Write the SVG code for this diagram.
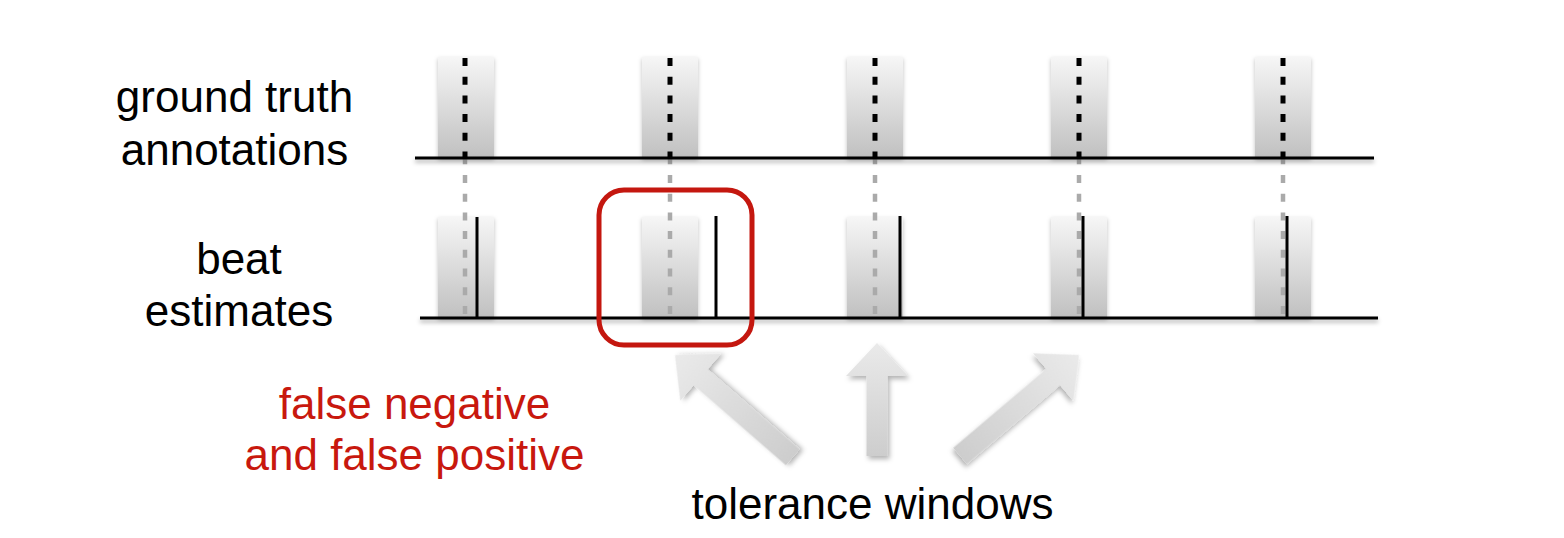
<svg xmlns="http://www.w3.org/2000/svg" width="1564" height="538" viewBox="0 0 1564 538">
<defs>
<linearGradient id="win" x1="0" y1="0" x2="0" y2="1">
<stop offset="0" stop-color="#f6f6f6"/>
<stop offset="1" stop-color="#c0c0c0"/>
</linearGradient>
<linearGradient id="arr" x1="0" y1="0" x2="0" y2="1">
<stop offset="0" stop-color="#eaeaea"/>
<stop offset="1" stop-color="#cdcdcd"/>
</linearGradient>
<filter id="sh" filterUnits="userSpaceOnUse" x="0" y="0" width="1564" height="538">
<feDropShadow dx="0" dy="3" stdDeviation="2" flood-color="#000" flood-opacity="0.3"/>
</filter>
<filter id="wsh" x="-30%" y="-10%" width="160%" height="130%">
<feDropShadow dx="0" dy="2" stdDeviation="2" flood-color="#000" flood-opacity="0.25"/>
</filter>
<filter id="ash" x="-30%" y="-30%" width="160%" height="160%">
<feDropShadow dx="2" dy="3" stdDeviation="2.5" flood-color="#000" flood-opacity="0.3"/>
</filter>
<path id="arrowUp" d="M0,0 L31,33 L10.5,33 L10.5,113 L-10.5,113 L-10.5,33 L-31,33 Z"/>
<path id="arrowLong" d="M0,0 L31,34 L10.5,34 L10.5,156 L-10.5,156 L-10.5,34 L-31,34 Z"/>
</defs>
<style>
.win{fill:url(#win);filter:url(#wsh)}
.base{fill:#000;filter:url(#sh)}
.gt{stroke:#000;stroke-width:5;stroke-dasharray:8 10.7}
.gd{stroke:#aaaaaa;stroke-width:4.5;stroke-dasharray:8 10.7}
.est{stroke:#000;stroke-width:3}
.lbl{font-family:"Liberation Sans",Arial,Helvetica,sans-serif;font-size:44px;text-anchor:middle;fill:#000}
.red{fill:#c8180e}
.arrow{fill:url(#arr);filter:url(#ash)}
</style>
<rect width="1564" height="538" fill="#fff"/>

<g id="labels">
<text class="lbl" x="234.5" y="112">ground truth</text>
<text class="lbl" x="234.5" y="165">annotations</text>
<text class="lbl" x="239" y="274">beat</text>
<text class="lbl" x="239" y="326">estimates</text>
<text class="lbl red" x="414.5" y="419">false negative</text>
<text class="lbl red" x="414.5" y="470">and false positive</text>
<text class="lbl" x="872.5" y="519">tolerance windows</text>
</g>

<g id="windows-top">
<rect class="win" x="438" y="57" width="56" height="101"/>
<rect class="win" x="642" y="57" width="56" height="101"/>
<rect class="win" x="847" y="57" width="56" height="101"/>
<rect class="win" x="1051" y="57" width="56" height="101"/>
<rect class="win" x="1255" y="57" width="56" height="101"/>
</g>
<g id="windows-bottom">
<rect class="win" x="438" y="217" width="56" height="101"/>
<rect class="win" x="642" y="217" width="56" height="101"/>
<rect class="win" x="847" y="217" width="56" height="101"/>
<rect class="win" x="1051" y="217" width="56" height="101"/>
<rect class="win" x="1255" y="217" width="56" height="101"/>
</g>

<g id="connectors">
<line class="gd" x1="465" y1="156.3" x2="465" y2="316"/>
<line class="gd" x1="670" y1="156.3" x2="670" y2="316"/>
<line class="gd" x1="875" y1="156.3" x2="875" y2="316"/>
<line class="gd" x1="1079" y1="156.3" x2="1079" y2="316"/>
<line class="gd" x1="1283" y1="156.3" x2="1283" y2="316"/>
</g>

<g id="ground-truth">
<rect class="base" x="415" y="156.5" width="959" height="3"/>
<line class="gt" x1="465" y1="58" x2="465" y2="158"/>
<line class="gt" x1="670" y1="58" x2="670" y2="158"/>
<line class="gt" x1="875" y1="58" x2="875" y2="158"/>
<line class="gt" x1="1079" y1="58" x2="1079" y2="158"/>
<line class="gt" x1="1283" y1="58" x2="1283" y2="158"/>
</g>

<g id="beat-estimates">
<rect class="base" x="420" y="316.5" width="958" height="3"/>
<line class="est" x1="477" y1="217" x2="477" y2="318"/>
<line class="est" x1="716" y1="216" x2="716" y2="318"/>
<line class="est" x1="900" y1="216" x2="900" y2="318"/>
<line class="est" x1="1083" y1="216" x2="1083" y2="318"/>
<line class="est" x1="1287" y1="216" x2="1287" y2="318"/>
</g>

<g id="highlight">
<rect x="599" y="190" width="153" height="155" rx="25" ry="25" fill="none" stroke="#c4170f" stroke-width="5"/>
</g>

<g id="arrows">
<use href="#arrowLong" class="arrow" transform="translate(675,355) rotate(-49)"/>
<use href="#arrowUp" class="arrow" transform="translate(877,343)"/>
<use href="#arrowLong" class="arrow" transform="translate(1079,355) rotate(49.7)"/>
</g>
</svg>
